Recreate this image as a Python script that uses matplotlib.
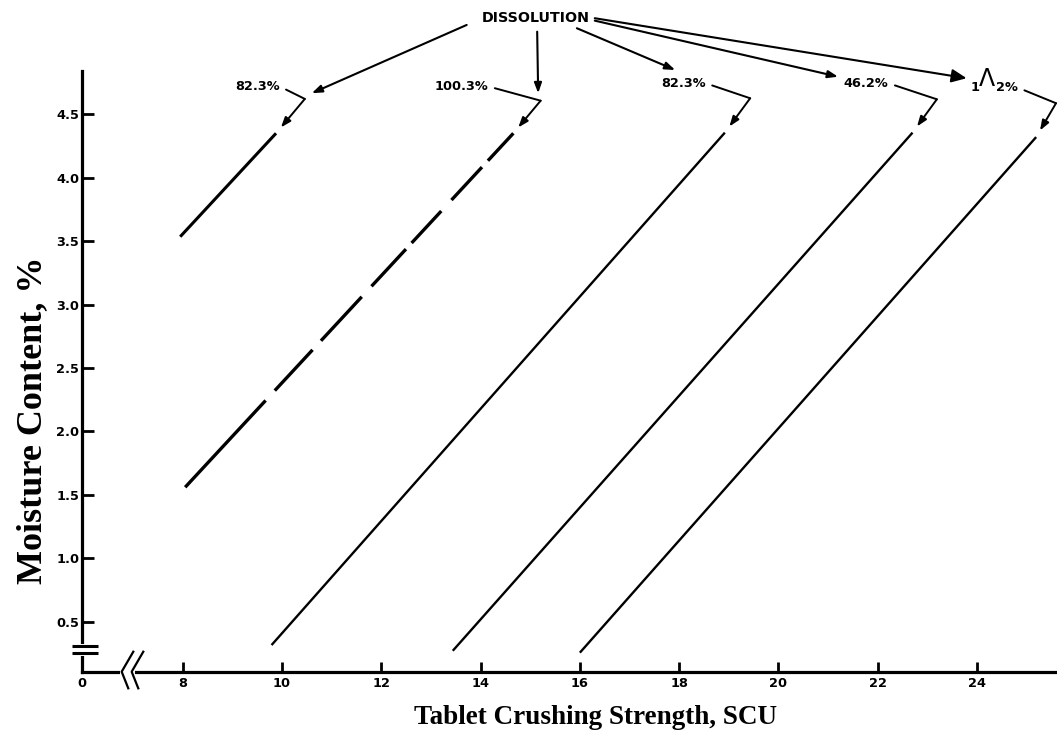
import matplotlib
matplotlib.use("Agg")
import matplotlib.pyplot as plt

# ==========================================================
# DATA
# ==========================================================
# crushing strength (SCU) and moisture (%) at the two ends of each line
strength_start = [7.95, 8.05, 9.79, 13.44, 16.00]
strength_end = [9.88, 14.66, 18.92, 22.70, 25.19]
moisture_start = [3.535, 1.56, 0.316, 0.271, 0.256]
moisture_end = [4.35, 4.35, 4.355, 4.355, 4.32]

dissolution_labels = ["82.3%", "100.3%", "82.3%", "46.2%", "1\u039b2%"]

x_ticks = [8, 10, 12, 14, 16, 18, 20, 22, 24]
y_ticks = [0.5, 1.0, 1.5, 2.0, 2.5, 3.0, 3.5, 4.0, 4.5]

# ==========================================================
# LAYOUT
# ==========================================================
XMIN, XMAX = 5.972, 25.61
YMIN, YMAX = 0.106, 4.841

# label anchor (right end) and elbow of each leader
label_pos = [(9.95, 4.72), (14.15, 4.72), (18.53, 4.745), (22.21, 4.745), (24.82, 4.71)]
elbow_pos = [(10.46, 4.621), (15.21, 4.607), (19.43, 4.626), (23.19, 4.618), (25.59, 4.587)]

# arrows from the DISSOLUTION heading to each label
head_start = [(13.72, 5.204), (15.14, 5.151), (15.94, 5.178), (16.30, 5.238), (16.30, 5.257)]
head_tip = [(10.60, 4.666), (15.16, 4.666), (17.92, 4.849), (21.20, 4.796), (23.79, 4.784)]

line_widths = [2.2, 2.4, 1.7, 1.7, 1.7]
# dash pattern (points) of the 100.3% line
dash_100 = (0, (85.2, 9.7, 40.0, 8.9, 43.2, 10.3, 36.5, 6.0, 31.4, 10.8, 32.3, 6.3, 28.0, 20.0))

plt.rcParams["lines.scale_dashes"] = False
tick_font = dict(family="DejaVu Sans", weight="bold", size=9.3)

fig = plt.figure(figsize=(10.57, 7.34), dpi=100)
ax = fig.add_axes([82 / 1057, 62.3 / 734, 975 / 1057, 600.7 / 734])
ax.set_xlim(XMIN, XMAX)
ax.set_ylim(YMIN, YMAX)

# ==========================================================
# LINES
# ==========================================================
for i in range(len(strength_start)):
    ls = dash_100 if i == 1 else "-"
    ax.plot([strength_start[i], strength_end[i]],
            [moisture_start[i], moisture_end[i]],
            color="black", linewidth=line_widths[i], linestyle=ls,
            solid_capstyle="butt")

# ==========================================================
# AXES STYLE
# ==========================================================
for side in ["top", "right"]:
    ax.spines[side].set_visible(False)
for side in ["left", "bottom"]:
    ax.spines[side].set_linewidth(2.3)

ax.set_xticks([XMIN] + x_ticks)
ax.set_xticklabels(["0"] + [str(v) for v in x_ticks], fontdict=tick_font)
ax.xaxis.get_major_ticks()[0].tick1line.set_visible(False)
ax.set_yticks(y_ticks)
ax.set_yticklabels([f"{v:.1f}" for v in y_ticks], fontdict=tick_font)
ax.tick_params(axis="x", direction="in", length=7.5, width=2.0, pad=4)
ax.tick_params(axis="y", direction="in", length=8.5, width=2.0, pad=2)

# broken y axis "="
ax.plot([XMIN, XMIN], [0.262, 0.299], color="white", lw=5, zorder=3, clip_on=False)
for yb in [0.253, 0.308]:
    ax.plot([5.78, 6.29], [yb, yb], color="black", lw=2.2, zorder=4,
            clip_on=False, solid_capstyle="butt")

# broken x axis "<<"
ax.plot([6.80, 6.95], [YMIN, YMIN], color="white", lw=5, zorder=3, clip_on=False)
for dx in [0.0, 0.2014]:
    ax.plot([7.005 + dx, 6.771 + dx, 6.904 + dx], [0.2635, YMIN, -0.025],
            color="black", lw=1.6, zorder=4, clip_on=False)

# ==========================================================
# ANNOTATIONS
# ==========================================================
ann_font = dict(family="DejaVu Sans", weight="bold", size=9.3)

for i, lab in enumerate(dissolution_labels):
    if i == 4:
        lx, ly = label_pos[i]
        ax.text(lx - 0.86, ly, "1", ha="center", va="center", **ann_font)
        ax.text(lx - 0.62, ly + 0.07, "\u039b", ha="center", va="center",
                family=["Liberation Sans Narrow", "DejaVu Sans"], size=17,
                weight="normal")
        ax.annotate("2%", xy=elbow_pos[i], xytext=label_pos[i],
                    ha="right", va="center", annotation_clip=False, **ann_font,
                    arrowprops=dict(arrowstyle="-", lw=1.4, color="black",
                                    relpos=(1.0, 0.5), shrinkA=3, shrinkB=0))
    else:
        ax.annotate(lab, xy=elbow_pos[i], xytext=label_pos[i],
                    ha="right", va="center", annotation_clip=False, **ann_font,
                    arrowprops=dict(arrowstyle="-", lw=1.4, color="black",
                                    relpos=(1.0, 0.5), shrinkA=3, shrinkB=0))
    ax.annotate("", xy=(strength_end[i], moisture_end[i]), xytext=elbow_pos[i],
                annotation_clip=False,
                arrowprops=dict(arrowstyle="-|>,head_length=0.6,head_width=0.22",
                                lw=1.4, color="black", shrinkA=0, shrinkB=5.5))

ax.text(15.12, 5.257, "DISSOLUTION", ha="center", va="center",
        family="DejaVu Sans", weight="bold", size=10.3, clip_on=False)

for i in range(len(head_start)):
    style = "-|>,head_length=0.6,head_width=0.22"
    if i == 4:
        style = "-|>,head_length=0.9,head_width=0.4"
    ax.annotate("", xy=head_tip[i], xytext=head_start[i], annotation_clip=False,
                arrowprops=dict(arrowstyle=style, lw=1.5, color="black",
                                shrinkA=0, shrinkB=0))

# ==========================================================
# AXIS TITLES
# ==========================================================
fig.text(33 / 1057, 1 - 420 / 734, "Moisture Content, %", rotation=90,
         ha="center", va="center", family="Liberation Serif", weight="bold",
         size=26)
fig.text(595 / 1057, 1 - 718 / 734, "Tablet Crushing Strength, SCU",
         ha="center", va="center", family="Liberation Serif", weight="bold",
         size=19.5)

plt.savefig("out.png", dpi=100)
